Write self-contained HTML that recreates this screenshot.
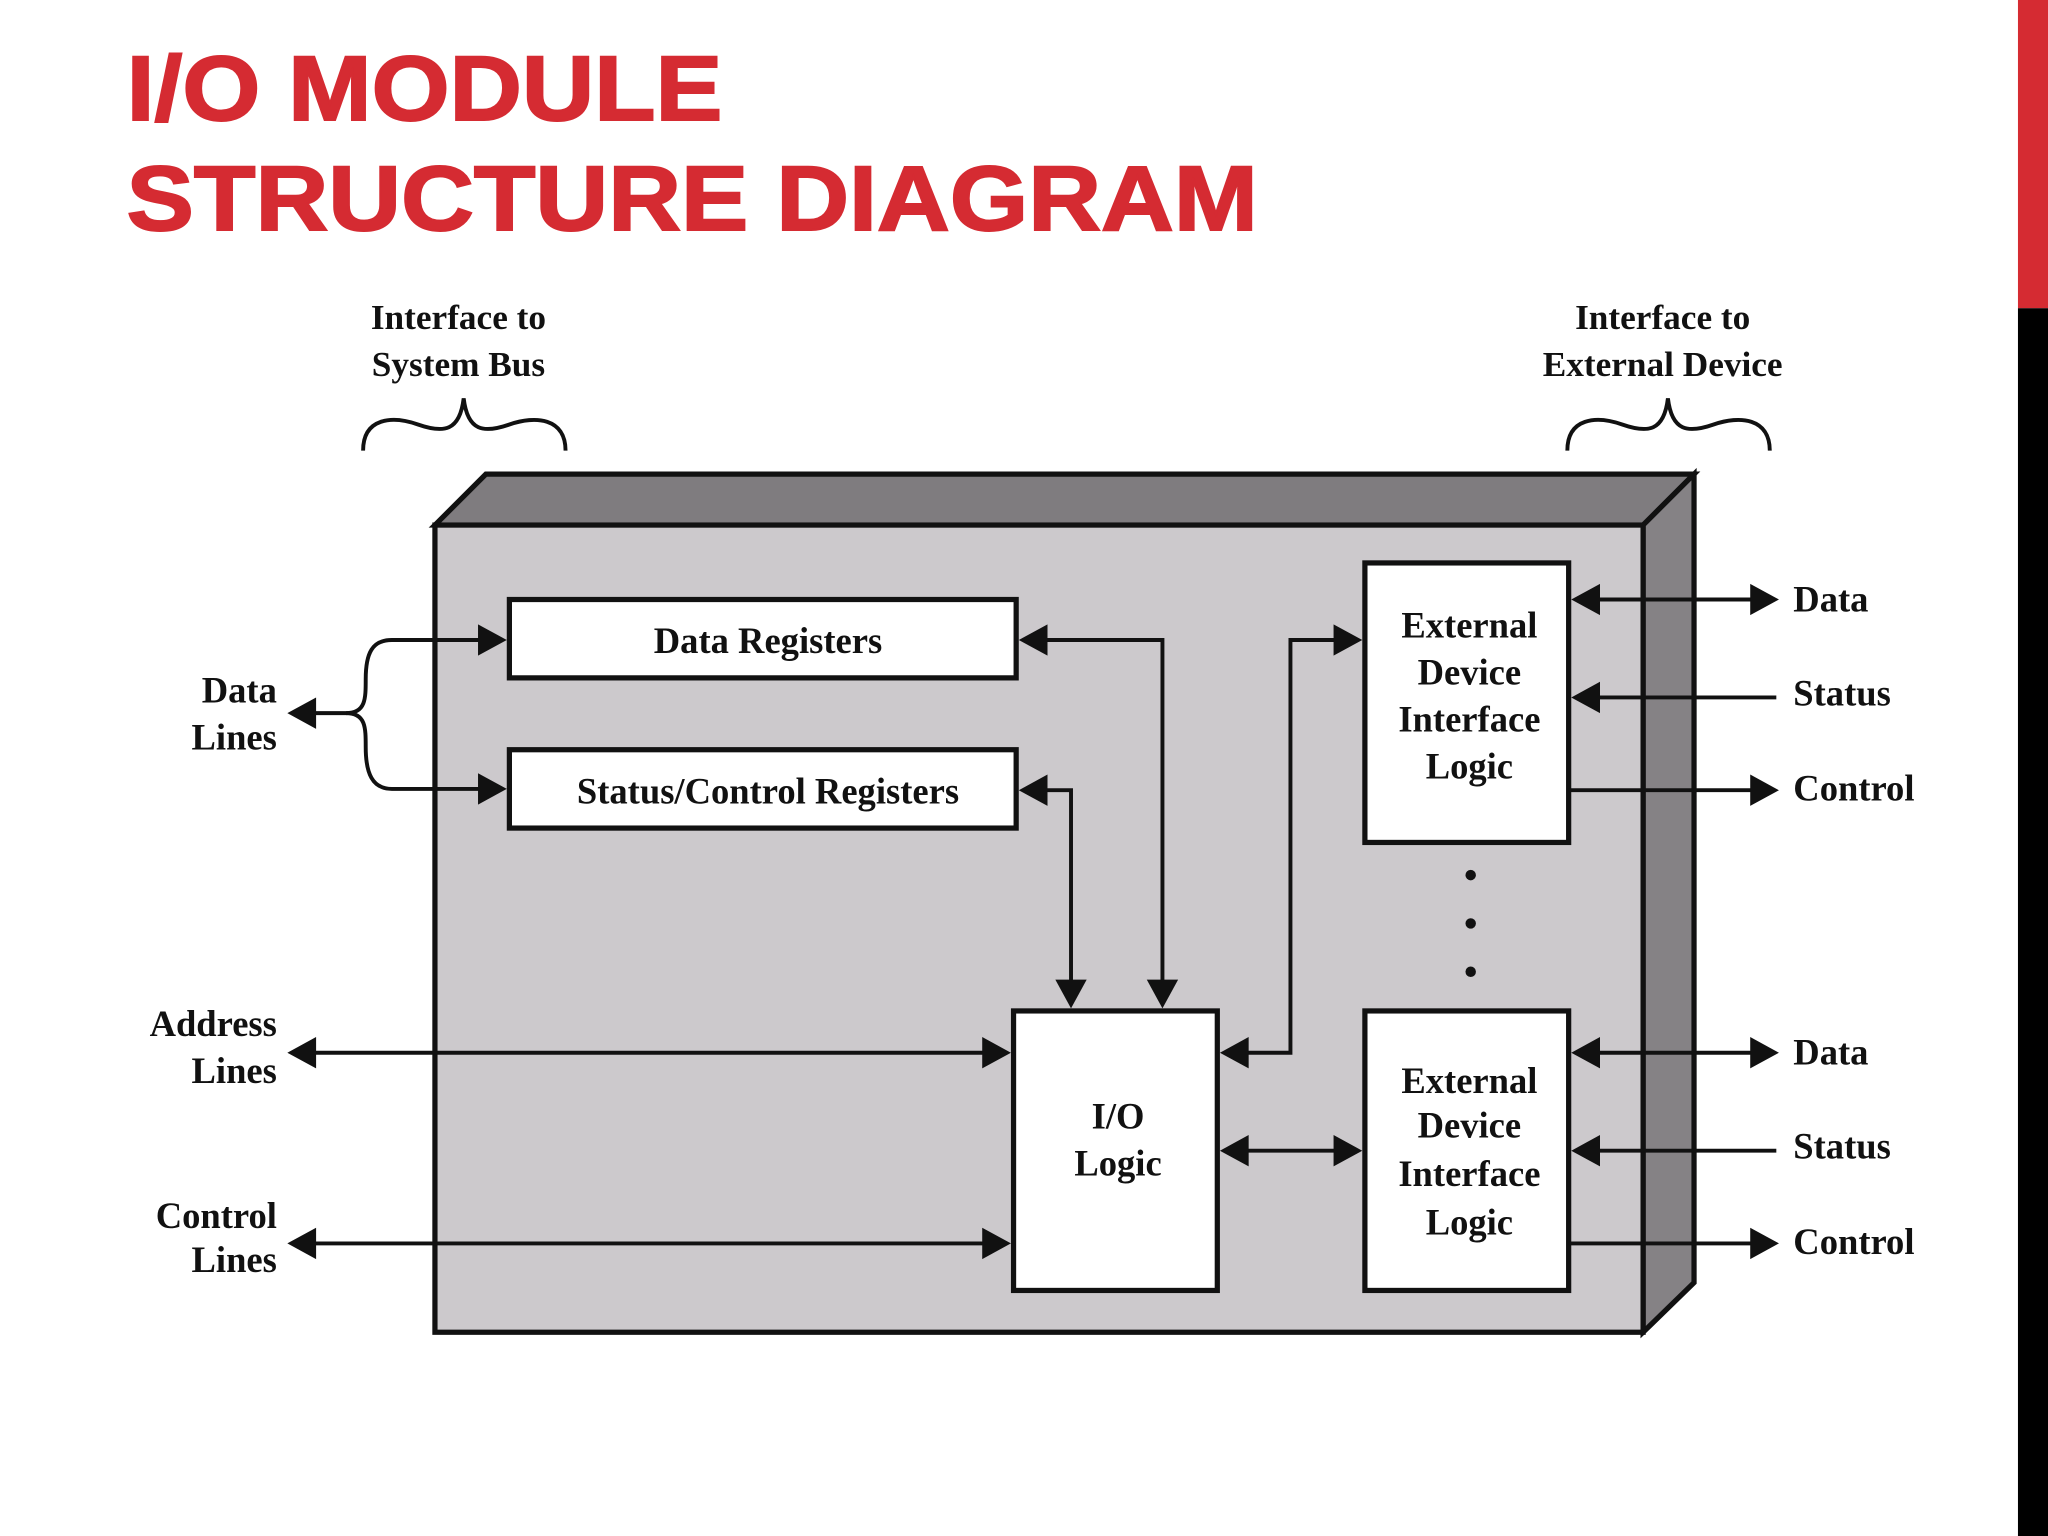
<!DOCTYPE html>
<html><head><meta charset="utf-8"><style>
html,body{margin:0;padding:0;background:#fff;}
svg{display:block;}
text{font-family:"Liberation Serif",serif;font-weight:bold;fill:#111;}
.t{font-family:"Liberation Sans",sans-serif;font-weight:bold;fill:#d52b32;stroke:#d52b32;stroke-width:1.5;}
</style></head><body>
<svg width="2048" height="1536" viewBox="0 0 1568 1176" xmlns="http://www.w3.org/2000/svg">
<rect x="1545" y="0" width="23" height="236" fill="#d52b32"/>
<rect x="1545" y="236" width="23" height="940" fill="#000"/>
<text class="t" x="97" y="92" font-size="70" textLength="456" lengthAdjust="spacingAndGlyphs">I/O MODULE</text>
<text class="t" x="97" y="176" font-size="70" textLength="866" lengthAdjust="spacingAndGlyphs">STRUCTURE DIAGRAM</text>

<text x="351" y="252" font-size="27" text-anchor="middle">Interface to</text>
<text x="351" y="288" font-size="27" text-anchor="middle">System Bus</text>
<text x="1273" y="252" font-size="27" text-anchor="middle">Interface to</text>
<text x="1273" y="288" font-size="27" text-anchor="middle">External Device</text>
<path d="M278,345 C278,320 300,318 320,325 C340,332 352,330 355,305 C358,330 370,332 390,325 C410,318 433,320 433,345" fill="none" stroke="#111" stroke-width="3"/>
<path d="M1200,345 C1200,320 1222,318 1242,325 C1262,332 1274,330 1277,305 C1280,330 1292,332 1312,325 C1332,318 1355,320 1355,345" fill="none" stroke="#111" stroke-width="3"/>

<polygon points="333,402 372,363 1297,363 1258,402" fill="#7f7c7f" stroke="#111" stroke-width="4"/>
<polygon points="1258,402 1297,363 1297,982 1258,1020" fill="#858285" stroke="#111" stroke-width="4"/>
<rect x="333" y="402" width="925" height="618" fill="#ccc9cc" stroke="#111" stroke-width="4"/>

<g fill="#fff" stroke="#111" stroke-width="4">
<rect x="390" y="459" width="388" height="60"/>
<rect x="390" y="574" width="388" height="60"/>
<rect x="776" y="774" width="156" height="214"/>
<rect x="1045" y="431" width="156" height="214"/>
<rect x="1045" y="774" width="156" height="214"/>
</g>
<g font-size="28" text-anchor="middle">
<text x="588" y="500">Data Registers</text>
<text x="588" y="615">Status/Control Registers</text>
<text x="856" y="864">I/O</text>
<text x="856" y="900">Logic</text>
<text x="1125" y="488">External</text>
<text x="1125" y="524">Device</text>
<text x="1125" y="560">Interface</text>
<text x="1125" y="596">Logic</text>
<text x="1125" y="837">External</text>
<text x="1125" y="871">Device</text>
<text x="1125" y="908">Interface</text>
<text x="1125" y="945">Logic</text>
</g>
<g font-size="28" text-anchor="end">
<text x="212" y="538">Data</text>
<text x="212" y="574">Lines</text>
<text x="212" y="793">Address</text>
<text x="212" y="829">Lines</text>
<text x="212" y="940">Control</text>
<text x="212" y="974">Lines</text>
</g>
<g font-size="28">
<text x="1373" y="468">Data</text>
<text x="1373" y="540">Status</text>
<text x="1373" y="613">Control</text>
<text x="1373" y="815">Data</text>
<text x="1373" y="887">Status</text>
<text x="1373" y="960">Control</text>
</g>
<g fill="#111">
<circle cx="1126" cy="670" r="4"/><circle cx="1126" cy="707" r="4"/><circle cx="1126" cy="744" r="4"/>
</g>

<g fill="none" stroke="#111" stroke-width="3">
<path d="M240,546 H265 C280,546 280,535 280,520 C280,500 285,490 300,490 H370"/>
<path d="M265,546 C280,546 280,557 280,572 C280,592 285,604 300,604 H370"/>
<path d="M798,490 H890 V752"/>
<path d="M798,605 H820 V752"/>
<path d="M240,806 H754"/>
<path d="M240,952 H754"/>
<path d="M954,806 H988 V490 H1023"/>
<path d="M954,881 H1023"/>
<path d="M1221,459 H1342"/>
<path d="M1221,534 H1360"/>
<path d="M1201,605 H1342"/>
<path d="M1221,806 H1342"/>
<path d="M1221,881 H1360"/>
<path d="M1201,952 H1342"/>
</g>
<g fill="#111">
<polygon points="220,546 242,534 242,558"/>
<polygon points="220,806 242,794 242,818"/>
<polygon points="220,952 242,940 242,964"/>
<polygon points="780,490 802,478 802,502"/>
<polygon points="780,605 802,593 802,617"/>
<polygon points="934,806 956,794 956,818"/>
<polygon points="934,881 956,869 956,893"/>
<polygon points="1203,459 1225,447 1225,471"/>
<polygon points="1203,534 1225,522 1225,546"/>
<polygon points="1203,806 1225,794 1225,818"/>
<polygon points="1203,881 1225,869 1225,893"/>
<polygon points="388,490 366,478 366,502"/>
<polygon points="388,604 366,592 366,616"/>
<polygon points="774,806 752,794 752,818"/>
<polygon points="774,952 752,940 752,964"/>
<polygon points="1043,490 1021,478 1021,502"/>
<polygon points="1043,881 1021,869 1021,893"/>
<polygon points="1362,459 1340,447 1340,471"/>
<polygon points="1362,605 1340,593 1340,617"/>
<polygon points="1362,806 1340,794 1340,818"/>
<polygon points="1362,952 1340,940 1340,964"/>
<polygon points="890,772 878,750 902,750"/>
<polygon points="820,772 808,750 832,750"/>
</g>
</svg>
</body></html>
